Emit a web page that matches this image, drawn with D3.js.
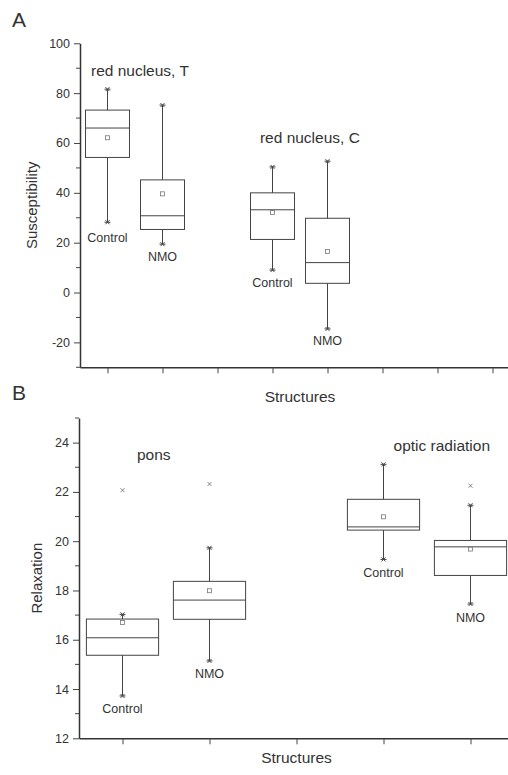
<!DOCTYPE html>
<html>
<head>
<meta charset="utf-8">
<script src="https://d3js.org/d3.v7.min.js"></script>
<style>
  body { margin: 0; background: #fff; }
  svg text { font-family: "Liberation Sans", Arial, sans-serif; fill: #333; }
</style>
</head>
<body>
<div id="chart"></div>
<script>
// ---- panel A data (susceptibility) ----
var groupsA = ["Control", "NMO", "Control", "NMO"];
var positionsA = [1, 2, 4, 5];
var whiskerHighA = [81.6, 75.2, 50.4, 52.7];
var q3A = [73.2, 45.2, 40.0, 29.8];
var medianA = [66.0, 30.8, 33.2, 12.0];
var meanA = [62.1, 39.6, 32.1, 16.5];
var q1A = [54.2, 25.3, 21.3, 3.7];
var whiskerLowA = [28.2, 19.4, 9.0, -14.6];
var outliersA = [[], [], [], []];
var groupLabelYA = [20.2, 12.8, 2.1, -21.2];
var titlesA = ["red nucleus, T", "red nucleus, C"];
var titlePosA = [1.59, 4.68];
var titleYA = [86.9, 60];
var yTicksA = [-20, 0, 20, 40, 60, 80, 100];

// ---- panel B data (relaxation) ----
var groupsB = ["Control", "NMO", "Control", "NMO"];
var positionsB = [1, 2, 4, 5];
var whiskerHighB = [17.03, 19.73, 23.12, 21.46];
var q3B = [16.84, 18.37, 21.70, 20.03];
var medianB = [16.08, 17.61, 20.58, 19.77];
var meanB = [16.70, 17.99, 20.99, 19.68];
var q1B = [15.37, 16.83, 20.45, 18.61];
var whiskerLowB = [13.72, 15.14, 19.26, 17.45];
var outliersB = [[22.07], [22.32], [], [22.25]];
var groupLabelYB = [13.02, 14.45, 18.55, 16.7];
var titlesB = ["pons", "optic radiation"];
var titlePosB = [1.36, 4.67];
var titleYB = [23.3, 23.66];
var yTicksB = [12, 14, 16, 18, 20, 22, 24];

var W = 508, H = 775;
var svg = d3.select("#chart").append("svg")
    .attr("width", W)
    .attr("height", H);

var lineColor = "#444";

function drawPanel(p) {
    var g = svg.append("g");

    var x = d3.scaleLinear()
        .domain([0.5, p.nCats + 0.5])
        .range([p.left, p.right]);
    var y = d3.scaleLinear()
        .domain(p.yDomain)
        .range([p.bottom, p.top]);
    var step = x(2) - x(1);
    var bw = step * p.boxFrac;

    // y axis: major ticks with labels, minor ticks between
    var yAxis = d3.axisLeft(y)
        .tickValues(p.yTicks)
        .tickSize(6)
        .tickPadding(4)
        .tickSizeOuter(0)
        .tickFormat(function(d) { return String(d); });
    var ya = g.append("g")
        .attr("transform", "translate(" + p.left + ",0)")
        .call(yAxis);
    var minor = d3.range(p.yDomain[0], p.yDomain[1] + 0.001, p.minorStep)
        .filter(function(v) { return p.yTicks.indexOf(v) < 0; });
    g.selectAll(".minor")
        .data(minor)
        .enter().append("line")
        .attr("x1", p.left - 4)
        .attr("x2", p.left)
        .attr("y1", function(d) { return y(d); })
        .attr("y2", function(d) { return y(d); })
        .attr("stroke", lineColor);

    // x axis with ticks at each category slot
    var xAxis = d3.axisBottom(x)
        .tickValues(d3.range(1, p.nCats + 1))
        .tickSize(6)
        .tickSizeOuter(0)
        .tickFormat("");
    var xa = g.append("g")
        .attr("transform", "translate(0," + p.bottom + ")")
        .call(xAxis);

    [ya, xa].forEach(function(a) {
        a.select(".domain").attr("stroke", "#333").attr("stroke-width", 1.5);
        a.selectAll(".tick line").attr("stroke", lineColor);
        a.selectAll(".tick text")
            .style("font-size", "12.5px")
            .attr("fill", "#333");
    });

    var idx = d3.range(p.groups.length);

    // whiskers
    g.selectAll(".whisker")
        .data(idx)
        .enter().append("line")
        .attr("x1", function(i) { return x(p.pos[i]); })
        .attr("x2", function(i) { return x(p.pos[i]); })
        .attr("y1", function(i) { return y(p.hi[i]); })
        .attr("y2", function(i) { return y(p.lo[i]); })
        .attr("stroke", lineColor);

    // whisker end caps (short bar + small cross)
    var ends = [];
    idx.forEach(function(i) {
        ends.push({ p: p.pos[i], v: p.hi[i] });
        ends.push({ p: p.pos[i], v: p.lo[i] });
    });
    g.selectAll(".cap")
        .data(ends)
        .enter().append("path")
        .attr("d", function(d) {
            var cx = x(d.p), cy = y(d.v);
            return "M" + (cx - 3) + "," + cy + "H" + (cx + 3) +
                "M" + (cx - 2) + "," + (cy - 2) + "L" + (cx + 2) + "," + (cy + 2) +
                "M" + (cx - 2) + "," + (cy + 2) + "L" + (cx + 2) + "," + (cy - 2);
        })
        .attr("stroke", lineColor)
        .attr("fill", "none");

    // boxes
    g.selectAll(".box")
        .data(idx)
        .enter().append("rect")
        .attr("x", function(i) { return x(p.pos[i]) - bw / 2; })
        .attr("width", bw)
        .attr("y", function(i) { return y(p.q3[i]); })
        .attr("height", function(i) { return y(p.q1[i]) - y(p.q3[i]); })
        .attr("fill", "#fff")
        .attr("stroke", lineColor);

    // medians
    g.selectAll(".median")
        .data(idx)
        .enter().append("line")
        .attr("x1", function(i) { return x(p.pos[i]) - bw / 2; })
        .attr("x2", function(i) { return x(p.pos[i]) + bw / 2; })
        .attr("y1", function(i) { return y(p.med[i]); })
        .attr("y2", function(i) { return y(p.med[i]); })
        .attr("stroke", lineColor);

    // means (hollow square)
    g.selectAll(".mean")
        .data(idx)
        .enter().append("rect")
        .attr("x", function(i) { return x(p.pos[i]) - 2; })
        .attr("y", function(i) { return y(p.mean[i]) - 2; })
        .attr("width", 4)
        .attr("height", 4)
        .attr("fill", "none")
        .attr("stroke", "#777")
        .attr("stroke-width", 0.8);

    // outliers (x marks)
    var outs = [];
    idx.forEach(function(i) {
        p.out[i].forEach(function(v) { outs.push({ p: p.pos[i], v: v }); });
    });
    g.selectAll(".outlier")
        .data(outs)
        .enter().append("path")
        .attr("d", function(d) {
            var cx = x(d.p), cy = y(d.v);
            return "M" + (cx - 2) + "," + (cy - 2) + "L" + (cx + 2) + "," + (cy + 2) +
                "M" + (cx - 2) + "," + (cy + 2) + "L" + (cx + 2) + "," + (cy - 2);
        })
        .attr("stroke", "#666")
        .attr("stroke-width", 0.8);

    // group labels under each box
    g.selectAll(".glabel")
        .data(idx)
        .enter().append("text")
        .attr("x", function(i) { return x(p.pos[i]); })
        .attr("y", function(i) { return y(p.labelY[i]); })
        .attr("text-anchor", "middle")
        .style("font-size", "12.5px")
        .text(function(i) { return p.groups[i]; });

    // structure titles
    g.selectAll(".stitle")
        .data(p.titles)
        .enter().append("text")
        .attr("x", function(d, i) { return x(p.titlePos[i]); })
        .attr("y", function(d, i) { return y(p.titleY[i]); })
        .attr("text-anchor", "middle")
        .style("font-size", "15.5px")
        .text(function(d) { return d; });

    // axis titles
    g.append("text")
        .attr("transform", "translate(" + p.yTitleX + "," + ((p.top + p.bottom) / 2) + ") rotate(-90)")
        .attr("text-anchor", "middle")
        .attr("dy", "0.35em")
        .style("font-size", "15px")
        .text(p.yTitle);

    g.append("text")
        .attr("x", x((p.nCats + 1) / 2))
        .attr("y", p.bottom + p.xTitleOffset)
        .attr("text-anchor", "middle")
        .style("font-size", "15.5px")
        .text("Structures");

    // panel letter
    g.append("text")
        .attr("x", 12)
        .attr("y", p.letterY)
        .style("font-size", "21px")
        .attr("fill", "#222")
        .text(p.letter);
}

drawPanel({
    letter: "A", letterY: 27,
    left: 80, right: 520, top: 43.3, bottom: 367.3,
    nCats: 8, boxFrac: 0.8,
    yDomain: [-30, 100], yTicks: yTicksA, minorStep: 10,
    groups: groupsA, pos: positionsA,
    hi: whiskerHighA, q3: q3A, med: medianA, mean: meanA, q1: q1A, lo: whiskerLowA,
    out: outliersA, labelY: groupLabelYA,
    titles: titlesA, titlePos: titlePosA, titleY: titleYA,
    yTitle: "Susceptibility", yTitleX: 32, xTitleOffset: 35
});

drawPanel({
    letter: "B", letterY: 400,
    left: 79, right: 514, top: 418, bottom: 738.3,
    nCats: 5, boxFrac: 0.83,
    yDomain: [12, 25], yTicks: yTicksB, minorStep: 1,
    groups: groupsB, pos: positionsB,
    hi: whiskerHighB, q3: q3B, med: medianB, mean: meanB, q1: q1B, lo: whiskerLowB,
    out: outliersB, labelY: groupLabelYB,
    titles: titlesB, titlePos: titlePosB, titleY: titleYB,
    yTitle: "Relaxation", yTitleX: 37, xTitleOffset: 25
});
</script>
</body>
</html>
